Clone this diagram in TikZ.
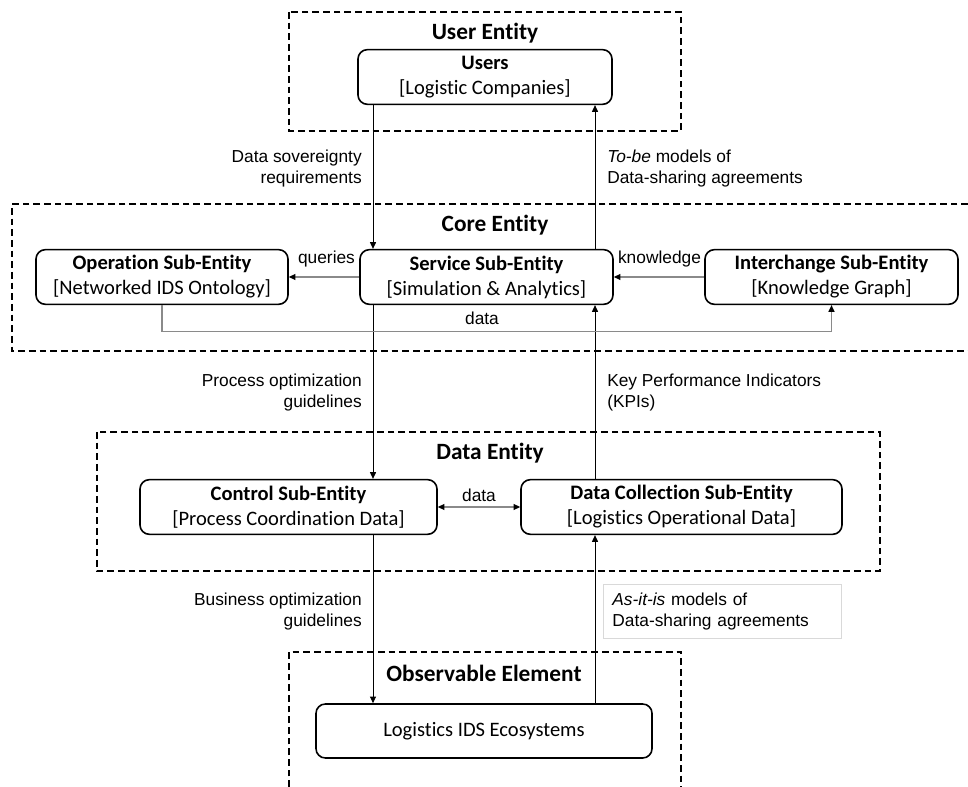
\documentclass[tikz,border=0pt]{standalone}
\usepackage{fontspec}
\setmainfont{Carlito}[Ligatures=NoCommon]
\newfontfamily\arialfont{Liberation Sans}
\usepackage{tikz}
\usetikzlibrary{arrows.meta, positioning, calc}
\definecolor{linkgray}{HTML}{8A8A8A}
\definecolor{noteedge}{HTML}{D9D9D9}

\begin{document}
\begin{tikzpicture}[
  x=0.75pt, y=-0.75pt,
  font=\fontsize{15.4}{18.75}\selectfont,
  entity/.style={draw, line width=1.1pt, dash pattern=on 5pt off 3pt},
  entitytitle/.style={font=\fontsize{17.5}{20}\selectfont\bfseries},
  subbox/.style={
    draw, line width=1.2pt, rounded corners=7pt, align=center,
    minimum height=41pt, inner sep=1pt
  },
  lbl/.style={font=\arialfont\fontsize{13}{15.75}\selectfont, inner sep=0pt},
  arr/.style={-{Triangle[length=5pt, width=4.5pt]}, line width=0.7pt},
  garr/.style={-{Triangle[length=5pt, width=4.5pt, color=black]},
    line width=0.9pt, draw=linkgray},
  gboth/.style={{Triangle[length=5pt, width=4.5pt, color=black]}-{Triangle[length=5pt, width=4.5pt, color=black]},
    line width=0.9pt, draw=linkgray}
]
  \useasboundingbox (0,0) rectangle (968,787);

  % entity frames
  \draw[entity] (289,12) rectangle (681,131);
  \draw[entity] (968,204) -- (12,204) -- (12,351) -- (968,351);
  \draw[entity] (97,432) rectangle (880,571);
  \draw[entity] (289,787) -- (289,652) -- (681,652) -- (681,787);

  \node[entitytitle] (usertitle) at (485,33) {User Entity};
  \node[entitytitle] (coretitle) at (495,225) {Core Entity};
  \node[entitytitle] (datatitle) at (490,453) {Data Entity};
  \node[entitytitle] (obstitle) at (484,673) {Observable Element};

  % sub-entities
  \node[subbox, minimum width=190.5pt] (users) at (485,77)
    {\textbf{Users}\\{[}Logistic Companies{]}};
  \node[subbox, minimum width=189pt] (ops) at (162,277)
    {\textbf{Operation Sub-Entity}\\{[}Networked IDS Ontology{]}};
  \node[subbox, minimum width=189.75pt] (svc) at (486.5,277)
    {\textbf{Service Sub-Entity}\\{[}Simulation \& Analytics{]}};
  \node[subbox, minimum width=189.75pt] (ichg) at (831.5,277)
    {\textbf{Interchange Sub-Entity}\\{[}Knowledge Graph{]}};
  \node[subbox, minimum width=222.75pt] (ctrl) at (288.5,507)
    {\textbf{Control Sub-Entity}\\{[}Process Coordination Data{]}};
  \node[subbox, minimum width=240.75pt] (dc) at (681.5,507)
    {\textbf{Data Collection Sub-Entity}\\{[}Logistics Operational Data{]}};
  \node[subbox, minimum width=252pt, minimum height=40.5pt] (eco) at (484,731)
    {Logistics IDS Ecosystems};

  % lanes of the vertical flows
  \coordinate (lx) at (373,0);
  \coordinate (rx) at (595,0);

  \draw[arr] (users.south -| lx) -- (svc.north -| lx);
  \draw[arr] (svc.north -| rx) -- (users.south -| rx);
  \draw[arr] (svc.south -| lx) -- (ctrl.north -| lx);
  \draw[arr] (dc.north -| rx) -- (svc.south -| rx);
  \draw[arr] (ctrl.south -| lx) -- (eco.north -| lx);
  \draw[arr] (eco.north -| rx) -- (dc.south -| rx);

  \draw[garr] (svc.west) -- (ops.east);
  \draw[garr] (ichg.west) -- (svc.east);
  \draw[garr] (ops.south) -- ++(0,26) -| (ichg.south);
  \draw[gboth] (ctrl.east) -- (dc.west);

  % labels
  \node[lbl] (querylbl) at (326.5,259) {queries};
  \node[lbl] (knowlbl) at (659.5,259) {knowledge};
  \node[lbl] (datalbl) at (482,318) {data};
  \node[lbl] (dclbl) at (479,495) {data};
  \node[lbl, anchor=east, align=right] (sovlbl) at (362,169)
    {Data sovereignty\\requirements};
  \node[lbl, anchor=west, align=left] (tobelbl) at (607,169)
    {\textit{To-be} models of\\Data-sharing agreements};
  \node[lbl, anchor=east, align=right] (proclbl) at (362,392.5)
    {Process optimization\\guidelines};
  \node[lbl, anchor=west, align=left] (kpilbl) at (607,392.5)
    {Key Performance Indicators\\(KPIs)};
  \node[lbl, anchor=east, align=right] (buslbl) at (362,612)
    {Business optimization\\guidelines};
  \node[lbl, draw=noteedge, line width=0.6pt, anchor=north west, align=left,
    text width=165pt, inner xsep=6.75pt, minimum height=40.5pt] (asislbl) at (603,584)
    {\textit{As-it-is} models of\\Data-sharing agreements};
\end{tikzpicture}
\end{document}
